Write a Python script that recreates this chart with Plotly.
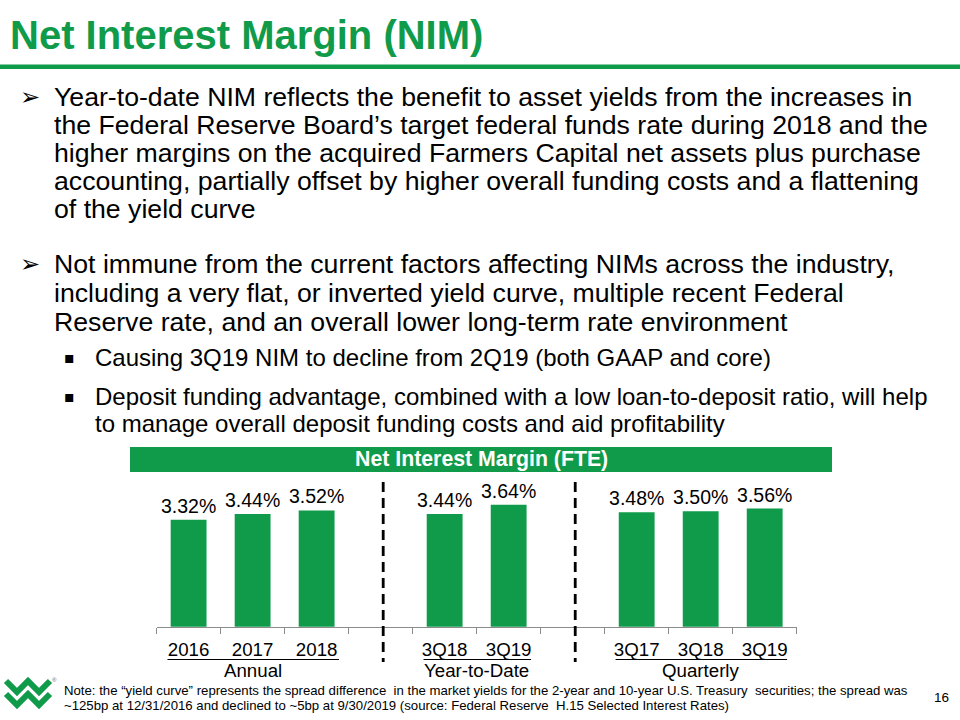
import plotly.graph_objects as go

# ---------------- data ----------------
annual_labels = ["2016", "2017", "2018"]
annual_values = [3.32, 3.44, 3.52]
ytd_labels = ["3Q18", "3Q19"]
ytd_values = [3.44, 3.64]
quarterly_labels = ["3Q17", "3Q18", "3Q19"]
quarterly_values = [3.48, 3.50, 3.56]
group_names = ["Annual", "Year-to-Date", "Quarterly"]

title_text = "Net Interest Margin (NIM)"
chart_title = "Net Interest Margin (FTE)"
bullet1 = [
    "Year-to-date NIM reflects the benefit to asset yields from the increases in",
    "the Federal Reserve Board\u2019s target federal funds rate during 2018 and the",
    "higher margins on the acquired Farmers Capital net assets plus purchase",
    "accounting, partially offset by higher overall funding costs and a flattening",
    "of the yield curve",
]
bullet2 = [
    "Not immune from the current factors affecting NIMs across the industry,",
    "including a very flat, or inverted yield curve, multiple recent Federal",
    "Reserve rate, and an overall lower long-term rate environment",
]
sub1 = ["Causing 3Q19 NIM to decline from 2Q19 (both GAAP and core)"]
sub2 = [
    "Deposit funding advantage, combined with a low loan-to-deposit ratio, will help",
    "to manage overall deposit funding costs and aid profitability",
]
note_lines = [
    "Note: the \u201cyield curve\u201d represents the spread difference  in the market yields for the 2-year and 10-year U.S. Treasury  securities; the spread was",
    "~125bp at 12/31/2016 and declined to ~5bp at 9/30/2019 (source: Federal Reserve  H.15 Selected Interest Rates)",
]
page_number = "16"

# ---------------- build positions ----------------
groups = [(annual_labels, annual_values), (ytd_labels, ytd_values), (quarterly_labels, quarterly_values)]
xs, ys, labels, group_centers, group_spans, gaps = [], [], [], [], [], []
pos = 0
for gi, (labs, vals) in enumerate(groups):
    p = list(range(pos, pos + len(labs)))
    xs += p
    ys += vals
    labels += labs
    group_centers.append((p[0] + p[-1]) / 2)
    group_spans.append((p[0], p[-1]))
    if gi < len(groups) - 1:
        gaps.append(pos + len(labs))
    pos += len(labs) + 1
n_slots = pos - 1

W, H = 960, 720
GREEN = "#0f9b4a"
FONT = "Liberation Sans"


def px(x):
    return x / W


def py(y):
    return 1 - y / H


fig = go.Figure()
fig.add_trace(go.Bar(
    x=xs, y=ys, width=0.56, marker=dict(color=GREEN, line=dict(width=0)),
    texttemplate="%{y:.2f}%", textposition="outside", constraintext="none",
    textfont=dict(family=FONT, size=19.5, color="#000000"), cliponaxis=False,
    hoverinfo="skip",
))

fig.update_layout(
    width=W, height=H, margin=dict(l=0, r=0, t=0, b=0),
    paper_bgcolor="white", plot_bgcolor="white", showlegend=False,
    font=dict(family=FONT, color="#000000"),
    xaxis=dict(
        domain=[px(156.6), px(796.7)], range=[-0.5, n_slots - 0.5],
        tickmode="array", tickvals=xs, ticktext=labels, ticks="",
        tickfont=dict(family=FONT, size=18.7, color="#000000"),
        showline=True, linecolor="#8c8c8c", linewidth=1, showgrid=False, zeroline=False,
        ticklabelstandoff=6,
        minor=dict(ticks="outside", tick0=-0.5, dtick=1, ticklen=6, tickcolor="#8c8c8c", tickwidth=1, showgrid=False),
    ),
    yaxis=dict(
        domain=[py(626.7), py(482)], range=[1.02, 4.13], visible=False,
    ),
)

shapes = []
annotations = []

# title and rule
annotations.append(dict(text="<b>%s</b>" % title_text, x=px(8), y=py(35), xref="paper", yref="paper",
                        xanchor="left", yanchor="middle", showarrow=False,
                        font=dict(family=FONT, size=40, color=GREEN)))
shapes.append(dict(type="rect", xref="paper", yref="paper", x0=0, x1=1, y0=py(69), y1=py(64.5),
                   fillcolor=GREEN, line=dict(width=0)))

# bullets
def add_lines(lines, x, y0, dy, size):
    for i, t in enumerate(lines):
        annotations.append(dict(text=t, x=px(x), y=py(y0 + i * dy), xref="paper", yref="paper",
                                xanchor="left", yanchor="middle", showarrow=False,
                                font=dict(family=FONT, size=size, color="#000000")))

b1_y, b2_y, s1_y, s2_y = 97, 264, 357, 396
add_lines(bullet1, 52, b1_y, 28, 26.67)
add_lines(bullet2, 52, b2_y, 29, 26.67)
add_lines(sub1, 93, s1_y, 27, 24)
add_lines(sub2, 93, s2_y, 27, 24)
for yb in (b1_y, b2_y):
    annotations.append(dict(text="\u27a2", x=px(18), y=py(yb), xref="paper", yref="paper",
                            xanchor="left", yanchor="middle", showarrow=False,
                            font=dict(family="DejaVu Sans", size=24, color="#000000")))
for yb in (s1_y, s2_y):
    annotations.append(dict(text="\u25aa", x=px(62), y=py(yb), xref="paper", yref="paper",
                            xanchor="left", yanchor="middle", showarrow=False,
                            font=dict(family="DejaVu Sans", size=16, color="#000000")))

# chart header band
shapes.append(dict(type="rect", xref="paper", yref="paper", x0=px(130), x1=px(832), y0=py(472), y1=py(447),
                   fillcolor=GREEN, line=dict(width=0)))
annotations.append(dict(text="<b>%s</b>" % chart_title, x=px(481), y=py(459.5), xref="paper", yref="paper",
                        xanchor="center", yanchor="middle", showarrow=False,
                        font=dict(family=FONT, size=21.3, color="white")))

# dashed separators
for g in gaps:
    shapes.append(dict(type="line", xref="x", yref="paper", x0=g + 0.04, x1=g + 0.04, y0=py(482), y1=py(662),
                       line=dict(color="black", width=2.8, dash="10px,6px")))

# group underlines and labels
for (a, b), c, name in zip(group_spans, group_centers, group_names):
    shapes.append(dict(type="line", xref="x", yref="paper", x0=a - 0.33, x1=b + 0.35, y0=py(659.5), y1=py(659.5),
                       line=dict(color="black", width=1)))
    annotations.append(dict(text=name, x=c, y=py(670), xref="x", yref="paper",
                            xanchor="center", yanchor="middle", showarrow=False,
                            font=dict(family=FONT, size=18.7, color="#000000")))

# footnote
for i, t in enumerate(note_lines):
    annotations.append(dict(text=t, x=px(62), y=py(690 + i * 15), xref="paper", yref="paper",
                            xanchor="left", yanchor="middle", showarrow=False,
                            font=dict(family=FONT, size=13.2, color="#000000")))
annotations.append(dict(text=page_number, x=px(941), y=py(697), xref="paper", yref="paper",
                        xanchor="center", yanchor="middle", showarrow=False,
                        font=dict(family=FONT, size=13.5, color="#000000")))

# logo (double chevron W)
def path(pts):
    return "M " + " L ".join("%.5f,%.5f" % (px(x), py(y)) for x, y in pts)

for off in (0, 13):
    shapes.append(dict(type="path", xref="paper", yref="paper",
                       path=path([(6, 681 + off), (17, 692 + off), (28, 681 + off), (39, 692 + off), (50, 681 + off)]),
                       line=dict(color=GREEN, width=6)))
annotations.append(dict(text="\u00ae", x=px(54), y=py(680), xref="paper", yref="paper",
                        xanchor="center", yanchor="middle", showarrow=False,
                        font=dict(family=FONT, size=6, color="#666666")))

fig.update_layout(shapes=shapes, annotations=annotations)
fig.write_html("out.html", config={"displayModeBar": False},
               post_script="document.body.style.margin='0';document.body.style.overflow='hidden';")
